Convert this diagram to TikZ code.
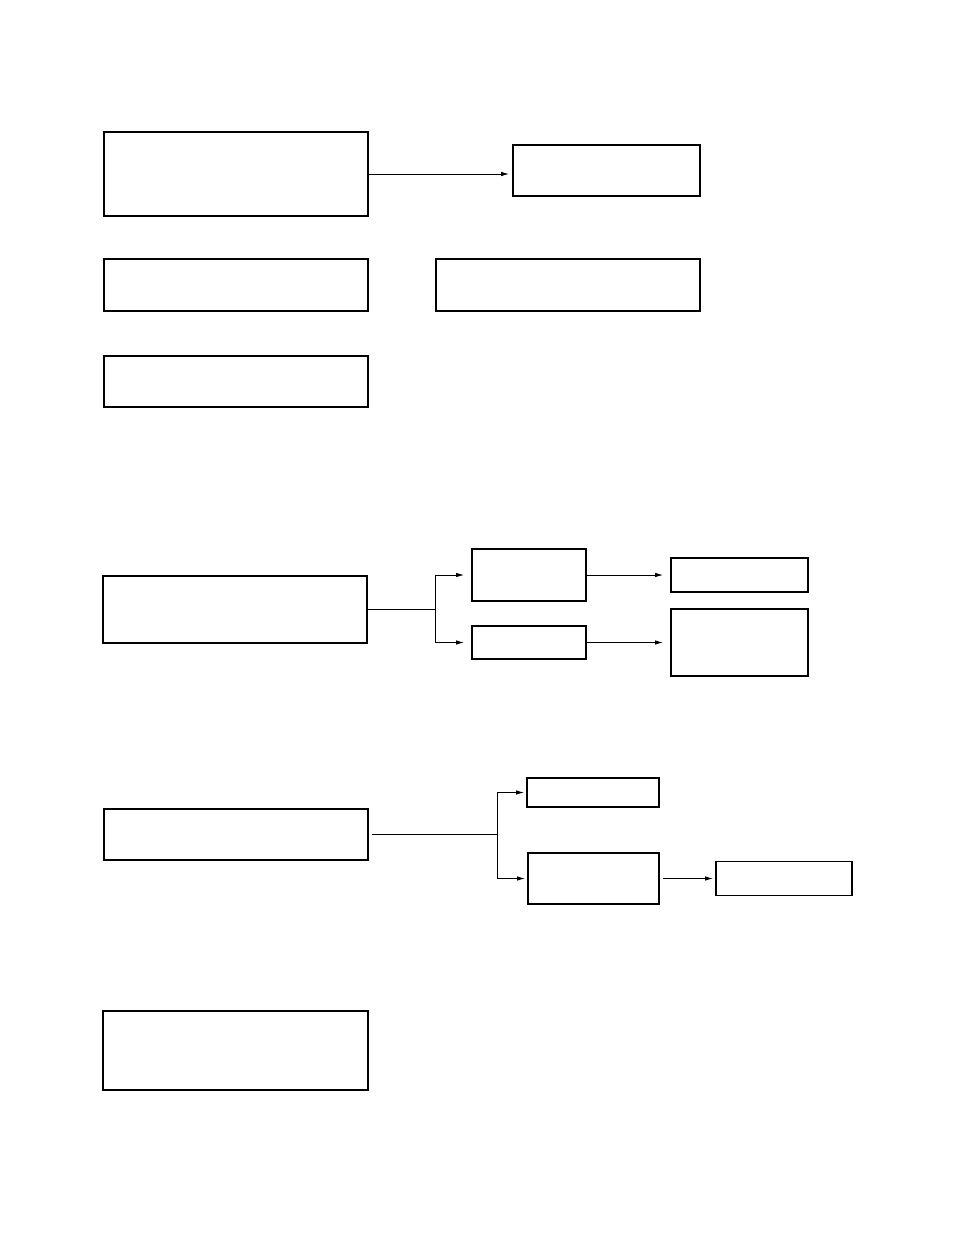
\documentclass[tikz,border=0pt]{standalone}
\usepackage{tikz}
\usetikzlibrary{arrows.meta}
\tikzset{>={Latex[length=8pt,width=4.5pt]}}
\tikzset{box/.style={draw, line width=1.6pt, inner sep=0pt, outer sep=0pt},
  link/.style={line width=0.8pt}}
\begin{document}
\begin{tikzpicture}[x=1pt, y=-1pt]
      \useasboundingbox (0,0) rectangle (954,1235);
      % first group
      \node[box, minimum width=264pt, minimum height=84pt] (a1) at (236,174) {};
      \node[box, minimum width=187pt, minimum height=51pt] (a2) at (606.5,170.5) {};
      \node[box, minimum width=264pt, minimum height=52pt] (b1) at (236,285) {};
      \node[box, minimum width=264pt, minimum height=52pt] (b2) at (568,285) {};
      \node[box, minimum width=264pt, minimum height=51pt] (c1) at (236,381.5) {};
      \draw[link, ->, shorten >=4pt] (a1.east) -- (a1.east -| a2.west);
      % second group
      \node[box, minimum width=264pt, minimum height=67pt] (d1) at (235,609.5) {};
      \node[box, minimum width=114pt, minimum height=52pt] (d2) at (529,575) {};
      \node[box, minimum width=114pt, minimum height=33pt] (d3) at (529,642.5) {};
      \node[box, minimum width=137pt, minimum height=34pt] (d4) at (739.5,575) {};
      \node[box, minimum width=137pt, minimum height=67pt] (d5) at (739.5,642.5) {};
      \coordinate (f1) at (435,609.5);
      \draw[link] (d1.east) -- (f1);
      \draw[link, ->, shorten >=8pt] (f1) |- (d2.west);
      \draw[link, ->, shorten >=8pt] (f1) |- (d3.west);
      \draw[link, ->, shorten >=8pt] (d2.east) -- (d4.west);
      \draw[link, ->, shorten >=8pt] (d3.east) -- (d5.west);
      % third group
      \node[box, minimum width=264pt, minimum height=51pt] (e1) at (236,834.5) {};
      \node[box, minimum width=132pt, minimum height=29pt] (e2) at (593,792.5) {};
      \node[box, minimum width=131pt, minimum height=51pt] (e3) at (593.5,878.5) {};
      \node[box, minimum width=136pt, minimum height=34pt] (e4) at (784,878.5) {};
      \coordinate (f2) at (497,834.5);
      \draw[link, shorten <=4pt] (e1.east) -- (f2);
      \draw[link, ->, shorten >=3pt] (f2) |- (e2.west);
      \draw[link, ->, shorten >=3pt] (f2) |- (e3.west);
      \draw[link, ->, shorten <=4pt, shorten >=3pt] (e3.east) -- (e4.west);
      % last box
      \node[box, minimum width=265pt, minimum height=79pt] (g1) at (235.5,1050.5) {};
    \end{tikzpicture}
\end{document}
